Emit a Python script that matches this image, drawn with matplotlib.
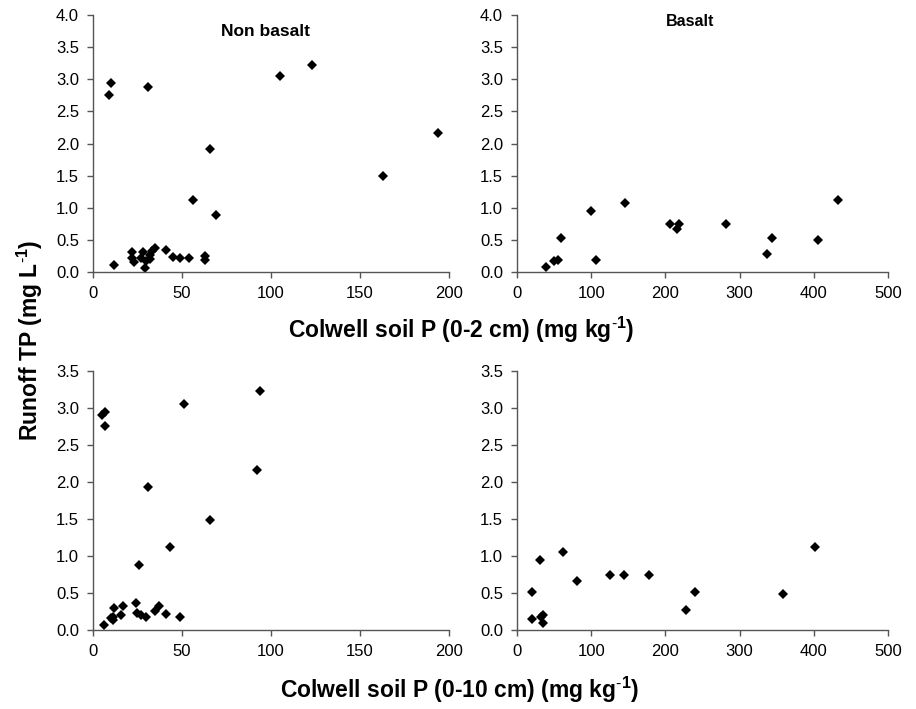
import matplotlib.pyplot as plt

plt.rcParams['font.family'] = ['Liberation Sans', 'DejaVu Sans']
plt.rcParams['mathtext.fontset'] = 'custom'
plt.rcParams['mathtext.bf'] = 'Liberation Sans:bold'
plt.rcParams['mathtext.rm'] = 'Liberation Sans'

# Runoff TP (mg/L) against Colwell soil P, non basalt and basalt soils
nb_p02 = [10, 9, 31, 105, 123, 66, 56, 69, 12, 163, 194,
          22, 22, 23, 28, 27, 29, 30, 32, 33, 35, 32, 41, 45, 49, 54, 63, 63]
nb_tp02 = [2.95, 2.76, 2.88, 3.06, 3.23, 1.92, 1.12, 0.88, 0.11, 1.50, 2.16,
           0.31, 0.21, 0.15, 0.31, 0.21, 0.06, 0.17, 0.26, 0.32, 0.37, 0.20, 0.34, 0.23, 0.21, 0.21, 0.25, 0.19]

b_p02 = [39, 50, 55, 59, 100, 107, 145, 206, 218, 216, 282, 337, 344, 406, 432]
b_tp02 = [0.08, 0.16, 0.19, 0.53, 0.95, 0.19, 1.07, 0.75, 0.75, 0.66, 0.75, 0.28, 0.52, 0.49, 1.12]

nb_p010 = [6, 7, 5, 7, 51, 94, 92, 31, 66, 43, 26,
           24, 37, 35, 41, 17, 12, 16, 11, 11, 25, 27, 30, 49, 10]
nb_tp010 = [0.07, 2.95, 2.90, 2.76, 3.06, 3.23, 2.16, 1.93, 1.49, 1.12, 0.88,
            0.37, 0.33, 0.26, 0.22, 0.32, 0.30, 0.20, 0.18, 0.13, 0.23, 0.20, 0.17, 0.17, 0.16]

b_p010 = [20, 20, 31, 35, 32, 35, 62, 81, 126, 144, 178, 228, 240, 359, 402]
b_tp010 = [0.52, 0.15, 0.95, 0.20, 0.17, 0.10, 1.06, 0.66, 0.75, 0.75, 0.75, 0.27, 0.52, 0.49, 1.12]

fig = plt.figure(figsize=(9.16, 7.09), dpi=100)

panels = [
    ([0.1015, 0.6168, 0.3886, 0.3616], nb_p02, nb_tp02, 200, 50, 4.0),
    ([0.5644, 0.6168, 0.4050, 0.3616], b_p02, b_tp02, 500, 100, 4.0),
    ([0.1015, 0.1114, 0.3886, 0.3653], nb_p010, nb_tp010, 200, 50, 3.5),
    ([0.5644, 0.1114, 0.4050, 0.3653], b_p010, b_tp010, 500, 100, 3.5),
]

axes = []
for rect, xs, ys, xmax, xstep, ymax in panels:
    ax = fig.add_axes(rect)
    ax.plot(xs, ys, linestyle='none', marker='D', ms=5.2,
            color='black', markeredgewidth=0)
    ax.set_xlim(0, xmax)
    ax.set_ylim(0, ymax)
    ax.set_xticks(range(0, xmax + 1, xstep))
    yt = [i * 0.5 for i in range(int(ymax / 0.5) + 1)]
    ax.set_yticks(yt)
    ax.set_yticklabels([f'{v:.1f}' for v in yt])
    for s in ['top', 'right']:
        ax.spines[s].set_visible(False)
    for s in ['left', 'bottom']:
        ax.spines[s].set_color('#555555')
        ax.spines[s].set_linewidth(1.0)
    ax.tick_params(direction='out', length=4, width=1, colors='#555555',
                   labelcolor='black', labelsize=12, pad=6)
    ax.patch.set_alpha(0)
    axes.append(ax)

axes[0].text(0.486, 0.936, 'Non basalt', transform=axes[0].transAxes,
             ha='center', va='center', fontsize=12.5, fontweight='bold')
axes[1].text(0.466, 0.974, 'Basalt', transform=axes[1].transAxes,
             ha='center', va='center', fontsize=11.5, fontweight='bold')

sup = '$^{\\mathbf{\\text{-}1}}$'
fig.text(0.504, 0.534, 'Colwell soil P (0-2 cm) (mg kg' + sup + ')',
         ha='center', va='center', fontsize=16.5, fontweight='bold')
fig.text(0.502, 0.027, 'Colwell soil P (0-10 cm) (mg kg' + sup + ')',
         ha='center', va='center', fontsize=16.5, fontweight='bold')
fig.text(0.033, 0.52, 'Runoff TP (mg L' + sup + ')', rotation=90,
         ha='center', va='center', fontsize=16.5, fontweight='bold')

fig.savefig('out.png', dpi=100)
